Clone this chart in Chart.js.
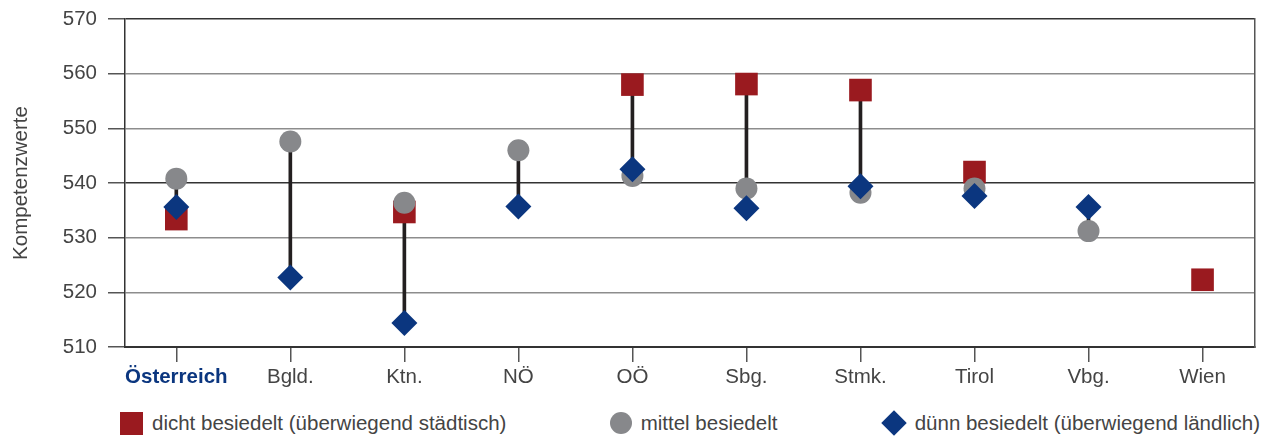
<!DOCTYPE html>
<html lang="de">
<head>
<meta charset="utf-8">
<title>Kompetenzwerte nach Besiedlungsdichte</title>
<script src="https://cdn.jsdelivr.net/npm/chart.js@4.4.1/dist/chart.umd.min.js"></script>
<style>
  body { margin: 0; background: #fff; font-family: 'Liberation Sans', Arial, sans-serif; }
  #wrap { position: relative; width: 1271px; height: 438px; }
  #legend { position: absolute; left: 120px; width: 1140px; top: 411px; height: 24px;
            display: flex; justify-content: space-between; align-items: center; }
  .item { display: flex; align-items: center; font-size: 20.5px; color: #444; white-space: nowrap; }
  .mark { flex: none; }
</style>
</head>
<body>
<div id="wrap">
  <canvas id="chart" width="1271" height="405"></canvas>
  <div id="legend"></div>
</div>
<script>
const categories = ['Österreich', 'Bgld.', 'Ktn.', 'NÖ', 'OÖ', 'Sbg.', 'Stmk.', 'Tirol', 'Vbg.', 'Wien'];
const dicht  = [533.4, null, 534.7, null, 558.0, 558.1, 557.0, 542.0, null, 522.3];
const mittel = [540.8, 547.6, 536.4, 546.0, 541.3, 539.0, 538.2, 539.0, 531.2, null];
const duenn  = [535.6, 522.7, 514.4, 535.7, 542.5, 535.4, 539.4, 537.6, 535.6, null];
const seriesNames = ['dicht besiedelt (überwiegend städtisch)', 'mittel besiedelt', 'dünn besiedelt (überwiegend ländlich)'];

const red = '#9a1a1f';
const gray = '#87888b';
const navy = '#0b367f';
const font = { family: "'Liberation Sans', Arial, sans-serif", size: 20.5 };

// vertical connector from lowest to highest value of each region
const ranges = categories.map((c, i) => {
    const vals = [dicht[i], mittel[i], duenn[i]].filter(v => v !== null);
    return { x: i, y: [Math.min(...vals), Math.max(...vals)] };
});

function points(values) {
    return values.map((v, i) => ({ x: i, y: v }));
}

const chart = new Chart(document.getElementById('chart'), {
    type: 'scatter',
    data: {
        datasets: [
            { label: seriesNames[0], data: points(dicht), pointStyle: 'rect', pointRadius: 16,
              backgroundColor: red, pointBorderWidth: 0, order: 3 },
            { label: seriesNames[1], data: points(mittel), pointStyle: 'circle', pointRadius: 11,
              backgroundColor: gray, pointBorderWidth: 0, order: 2 },
            { label: seriesNames[2], data: points(duenn), pointStyle: 'rectRot', pointRadius: 13,
              backgroundColor: navy, pointBorderWidth: 0, order: 1 },
            { type: 'bar', label: 'Spanne', data: ranges, backgroundColor: '#231f20',
              barThickness: 3, order: 4 }
        ]
    },
    options: {
        responsive: false,
        animation: false,
        events: [],
        layout: { padding: { top: 19, left: 0, right: 0, bottom: 0 } },
        plugins: { legend: { display: false }, tooltip: { enabled: false } },
        scales: {
            x: {
                type: 'linear',
                offset: false,
                min: -0.45,
                max: 9.46,
                afterBuildTicks: axis => { axis.ticks = categories.map((c, i) => ({ value: i })); },
                afterFit: scale => { scale.height = 58; },
                grid: { offset: false, drawOnChartArea: false, drawTicks: true, tickLength: 15, color: '#555', lineWidth: 1.5 },
                border: { color: '#333', width: 2 },
                ticks: {
                    padding: 3,
                    autoSkip: false,
                    maxRotation: 0,
                    callback: v => categories[v],
                    color: ctx => ctx.index === 0 ? navy : '#444',
                    font: ctx => ctx.index === 0 ? { ...font, weight: 'bold' } : font
                }
            },
            y: {
                min: 510,
                max: 570,
                afterFit: scale => { scale.width = 125; scale.paddingTop = 8; },
                title: { display: true, text: 'Kompetenzwerte', font: font, color: '#444', padding: { top: 9, bottom: 0 } },
                grid: {
                    color: ctx => [510, 540, 570].includes(ctx.tick.value) ? '#333' : '#8d8d8d',
                    tickColor: '#555',
                    lineWidth: 1.5,
                    tickLength: 17
                },
                border: { color: '#333', width: 1.5 },
                ticks: { stepSize: 10, padding: 11, color: '#444', font: font }
            },
            y2: {
                position: 'right',
                min: 510,
                max: 570,
                afterFit: scale => { scale.width = 13; },
                ticks: { display: false },
                grid: { display: false },
                border: { display: true, color: '#555', width: 1.5 }
            }
        }
    }
});

// legend below the chart, built from the point datasets
const markCss = [
    'width:23px;height:23px;background:' + red + ';margin-right:9px;',
    'width:22px;height:22px;border-radius:50%;background:' + gray + ';margin-right:9px;',
    'width:18px;height:18px;transform:rotate(45deg);background:' + navy + ';margin:0 12px 0 4px;'
];
const legend = document.getElementById('legend');
chart.data.datasets.slice(0, 3).forEach((ds, i) => {
    const item = document.createElement('div');
    item.className = 'item';
    const mark = document.createElement('span');
    mark.className = 'mark';
    mark.style.cssText = markCss[i];
    const text = document.createElement('span');
    text.textContent = ds.label;
    item.appendChild(mark);
    item.appendChild(text);
    legend.appendChild(item);
});
</script>
</body>
</html>
